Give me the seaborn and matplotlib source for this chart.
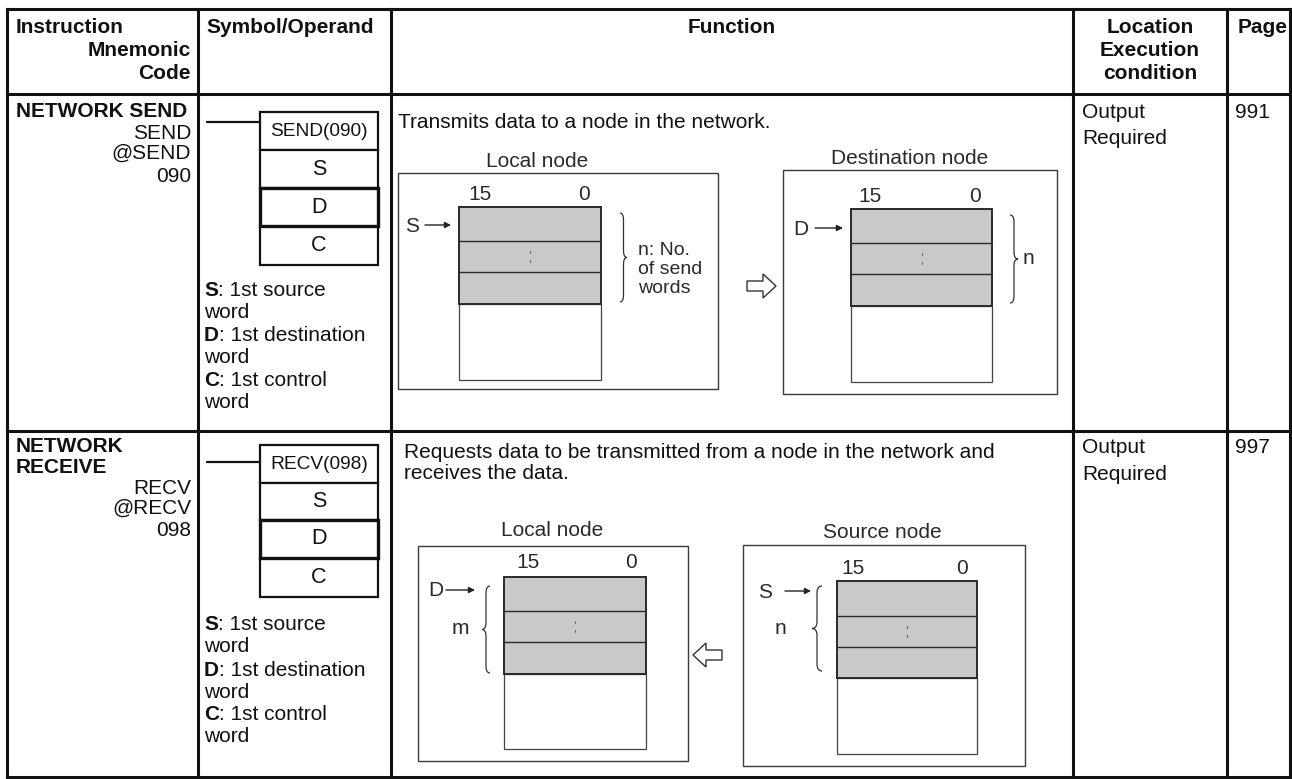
import matplotlib
matplotlib.use("Agg")
import matplotlib.pyplot as plt
import seaborn as sns
from matplotlib.patches import Rectangle, Polygon, PathPatch
from matplotlib.path import Path

# ---------------- data (text content of the table) ----------------
header_instruction = ["Instruction", "Mnemonic", "Code"]
header_symbol = "Symbol/Operand"
header_function = "Function"
header_location = ["Location", "Execution", "condition"]
header_page = "Page"

instr_names = [["NETWORK SEND"], ["NETWORK", "RECEIVE"]]
instr_mnemonics = [["SEND", "@SEND", "090"], ["RECV", "@RECV", "098"]]
symbol_labels = ["SEND(090)", "RECV(098)"]
operand_names = ["S", "D", "C"]
operand_first = ["1st source", "1st destination", "1st control"]
operand_second = ["word", "word", "word"]
function_texts = [["Transmits data to a node in the network."],
                  ["Requests data to be transmitted from a node in the network and",
                   "receives the data."]]
location_texts = [["Output", "Required"], ["Output", "Required"]]
page_numbers = ["991", "997"]
node_titles = [["Local node", "Destination node"], ["Local node", "Source node"]]
bit_labels = ["15", "0"]
pointer_labels = [["S", "D"], ["D", "S"]]
count_labels = [[["n: No.", "of send", "words"], ["n"]], [["m"], ["n"]]]

# ---------------- style ----------------
sns.set_theme(style="white")
plt.rcParams["font.family"] = ["Liberation Sans", "DejaVu Sans"]

FS = 15
INK = "#111111"
DIA = "#2a2a2a"
SHADE = "#c9c9c9"

fig = plt.figure(figsize=(12.92, 7.79), dpi=100)
ax = fig.add_axes([0, 0, 1, 1])
ax.set_xlim(0, 1292)
ax.set_ylim(779, 0)
ax.axis("off")
sns.despine(ax=ax, left=True, bottom=True)

def txt(x, y, s, ha="left", fs=FS, bold=False, color=INK):
    return ax.text(x, y, s, ha=ha, va="center", fontsize=fs,
                   fontweight="bold" if bold else "normal", color=color)

# ---------------- table grid ----------------
col_x = [7, 198, 391, 1073, 1227, 1290]
row_y = [9, 94, 431, 777]
for y in row_y:
    ax.plot([col_x[0], col_x[-1]], [y, y], color=INK, lw=2.2, solid_capstyle="projecting")
for x in col_x:
    ax.plot([x, x], [row_y[0], row_y[-1]], color=INK, lw=2.2, solid_capstyle="projecting")

# ---------------- header ----------------
txt(16, 27, header_instruction[0], bold=True)
txt(191, 50, header_instruction[1], ha="right", bold=True)
txt(191, 73, header_instruction[2], ha="right", bold=True)
txt(206, 27, header_symbol, bold=True)
txt(732, 27, header_function, ha="center", bold=True)
for i, s in enumerate(header_location):
    txt(1150, 27 + 23 * i, s, ha="center", bold=True)
txt(1238, 27, header_page, bold=True)

# ---------------- helpers ----------------
def memory(x0, x1, ys):
    top, r1, r2, sb, bot = ys
    ax.add_patch(Rectangle((x0, sb), x1 - x0, bot - sb, facecolor="white",
                           edgecolor="#444444", lw=0.9))
    ax.add_patch(Rectangle((x0, top), x1 - x0, sb - top, facecolor=SHADE,
                           edgecolor=DIA, lw=1.4))
    for yy in (r1, r2):
        ax.plot([x0, x1], [yy, yy], color=DIA, lw=1.0)
    xc = (x0 + x1) / 2
    for f in (0.36, 0.64):
        yy = r1 + (r2 - r1) * f
        ax.plot([xc, xc], [yy - 1.2, yy + 1.2], color="#666666", lw=0.8)

def node_box(x0, y0, x1, y1):
    ax.add_patch(Rectangle((x0, y0), x1 - x0, y1 - y0, facecolor="none",
                           edgecolor="#3a3a3a", lw=1.0))

def brace(x0, x1, y0, y1):
    ym = (y0 + y1) / 2
    xm = (x0 + x1) / 2
    r = 7
    verts = [(x0, y0), (xm, y0), (xm, y0 + r), (xm, ym - r), (xm, ym), (x1, ym),
             (xm, ym), (xm, ym + r), (xm, y1 - r), (xm, y1), (x0, y1)]
    codes = [Path.MOVETO, Path.CURVE3, Path.CURVE3, Path.LINETO, Path.CURVE3,
             Path.CURVE3, Path.CURVE3, Path.CURVE3, Path.LINETO, Path.CURVE3, Path.CURVE3]
    ax.add_patch(PathPatch(Path(verts, codes), facecolor="none", edgecolor="#333333", lw=0.9))

def small_arrow(xs, xe, y):
    ax.annotate("", xy=(xe, y), xytext=(xs, y),
                arrowprops=dict(arrowstyle="-|>", lw=1.0, color="#222222",
                                mutation_scale=9, shrinkA=0, shrinkB=0))

def hollow_arrow(xtail, xtip, yc, h=12, hs=5, hl=13):
    d = 1 if xtip > xtail else -1
    xb = xtip - d * hl
    pts = [(xtail, yc - hs), (xb, yc - hs), (xb, yc - h), (xtip, yc),
           (xb, yc + h), (xb, yc + hs), (xtail, yc + hs)]
    ax.add_patch(Polygon(pts, closed=True, facecolor="white", edgecolor="#333333", lw=1.0))

def symbol_box(x0, x1, ys, label, line_y):
    ax.plot([207, x0], [line_y, line_y], color=INK, lw=1.6)
    names = [label] + operand_names
    for i in range(4):
        lw = 2.4 if i == 2 else 1.6
        ax.add_patch(Rectangle((x0, ys[i]), x1 - x0, ys[i + 1] - ys[i],
                               facecolor="white", edgecolor=INK, lw=lw, zorder=3 if i == 2 else 2))
        txt((x0 + x1) / 2, (ys[i] + ys[i + 1]) / 2, names[i], ha="center",
            fs=13.8 if i == 0 else 15.5).set_zorder(4)

fig.canvas.draw()
renderer = fig.canvas.get_renderer()

def operand_lines(x, ys):
    for i, name in enumerate(operand_names):
        t = txt(x, ys[2 * i], name, bold=True)
        bb = t.get_window_extent(renderer=renderer)
        txt(bb.x1, ys[2 * i], ": " + operand_first[i])
        txt(x, ys[2 * i + 1], operand_second[i])

# ---------------- row contents ----------------
row_specs = [
    dict(name_y=[111], mn_y=[133, 153, 176], sym_ys=[112, 150, 188, 226, 265], sym_line=122,
         op_ys=[290, 312, 335, 357, 380, 402], fn_y=[122], fn_x=398, loc_y=[112, 138]),
    dict(name_y=[446, 467], mn_y=[488, 508, 531], sym_ys=[445, 483, 520, 558, 597], sym_line=462,
         op_ys=[624, 647, 670, 692, 715, 737], fn_y=[452, 473], fn_x=404, loc_y=[447, 474]),
]

for r, spec in enumerate(row_specs):
    for s, y in zip(instr_names[r], spec["name_y"]):
        txt(16, y, s, bold=True)
    for s, y in zip(instr_mnemonics[r], spec["mn_y"]):
        txt(191, y, s, ha="right")
    symbol_box(260, 378, spec["sym_ys"], symbol_labels[r], spec["sym_line"])
    operand_lines(204, spec["op_ys"])
    for s, y in zip(function_texts[r], spec["fn_y"]):
        txt(spec["fn_x"], y, s)
    for s, y in zip(location_texts[r], spec["loc_y"]):
        txt(1082, y, s)
    txt(1235, spec["loc_y"][0], page_numbers[r])

# ---------------- row 1 diagram (SEND) ----------------
node_box(398, 173, 718, 389)
txt(537, 161, node_titles[0][0], ha="center", color=DIA)
memory(459, 601, [207, 241, 272, 304, 380])
txt(480, 194, bit_labels[0], ha="center", color=DIA)
txt(584, 194, bit_labels[1], ha="center", color=DIA)
txt(412, 226, pointer_labels[0][0], ha="center", color=DIA)
small_arrow(425, 451, 225)
brace(620, 627, 213, 302)
for s, y in zip(count_labels[0][0], [250, 269, 288]):
    txt(638, y, s, fs=14, color=DIA)

hollow_arrow(747, 776, 286)

node_box(783, 170, 1057, 394)
txt(910, 158, node_titles[0][1], ha="center", color=DIA)
memory(851, 992, [209, 243, 274, 306, 382])
txt(870, 196, bit_labels[0], ha="center", color=DIA)
txt(975, 196, bit_labels[1], ha="center", color=DIA)
txt(801, 229, pointer_labels[0][1], ha="center", color=DIA)
small_arrow(815, 843, 228)
brace(1010, 1018, 215, 303)
txt(1023, 259, count_labels[0][1][0], color=DIA)

# ---------------- row 2 diagram (RECV) ----------------
node_box(418, 546, 688, 761)
txt(552, 531, node_titles[1][0], ha="center", color=DIA)
memory(504, 646, [577, 611, 642, 674, 749])
txt(528, 562, bit_labels[0], ha="center", color=DIA)
txt(631, 562, bit_labels[1], ha="center", color=DIA)
txt(436, 591, pointer_labels[1][0], ha="center", color=DIA)
small_arrow(446, 475, 590)
txt(460, 629, count_labels[1][0][0], ha="center", color=DIA)
brace(490, 482, 586, 673)

hollow_arrow(722, 693, 655)

node_box(743, 545, 1025, 766)
txt(882, 532, node_titles[1][1], ha="center", color=DIA)
memory(837, 977, [581, 616, 647, 678, 754])
txt(853, 569, bit_labels[0], ha="center", color=DIA)
txt(962, 569, bit_labels[1], ha="center", color=DIA)
txt(765, 593, pointer_labels[1][1], ha="center", color=DIA)
small_arrow(785, 811, 591)
txt(780, 629, count_labels[1][1][0], ha="center", color=DIA)
brace(822, 812, 586, 671)

fig.savefig("out.png", dpi=100, facecolor="white")
